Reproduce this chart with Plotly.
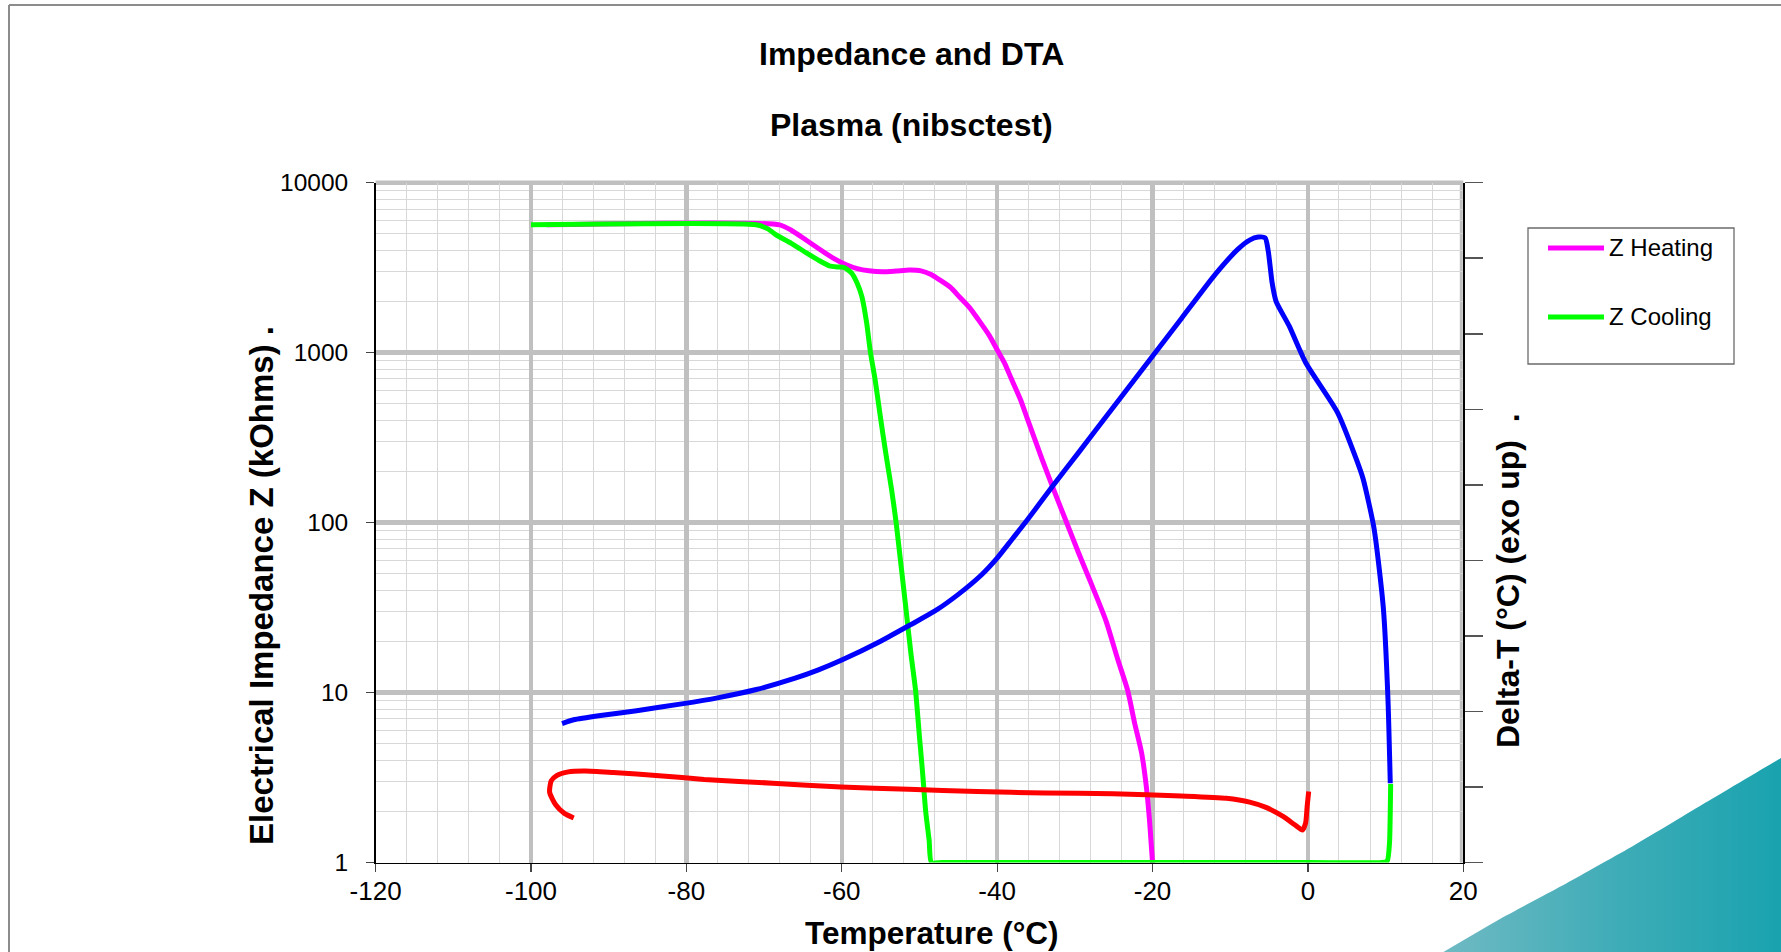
import plotly.graph_objects as go

# ---- data -------------------------------------------------------------
# Impedance on heating (kOhms)
heat_t = [-98, -68, -66.5, -64.6, -63, -61.1, -59.5, -58, -56.5, -54.7, -53, -51.3,
          -49.8, -48.5, -47.4, -46, -44.9, -43.5, -42.4, -41, -40, -39, -38.2, -37,
          -36, -34.2, -32.4, -31.2, -29.5, -28, -26, -24.5, -23.2, -22.3, -21.4,
          -20.8, -20.4, -20.15, -20.0]
heat_z = [5650, 5650, 5250, 4600, 4100, 3600, 3300, 3120, 3030, 2990, 3020, 3060,
          3030, 2880, 2680, 2420, 2140, 1830, 1560, 1260, 1040, 860, 706, 530,
          395, 235, 143, 104, 66, 45, 26.5, 15.8, 10.3, 6.6, 4.4,
          2.8, 1.8, 1.25, 1.0]

# Impedance on cooling (kOhms)
cool_t = [-100, -71, -69.5, -68.5, -66.5, -64.6, -63, -61.6, -60.5, -59.7, -58.7,
          -58, -57.4, -56.8, -56.3, -55.7, -55, -54.3, -53.6, -53.0, -52.7, -51.8,
          -51.1, -50.5, -50, -49.6, -49.2, -48.75, -48.45, -47, 0, 9.5, 10.2,
          10.5, 10.6, 10.65]
cool_z = [5650, 5650, 5350, 4950, 4400, 3875, 3500, 3240, 3190, 3170, 2930,
          2550, 2130, 1500, 1000, 690, 410, 250, 158, 100, 76, 33,
          17, 10.3, 5.5, 3.4, 2.0, 1.35, 1.0, 1.0, 1.0, 1.0, 1.02,
          1.3, 2.0, 2.9]

# Delta-T, cooling run (right axis units)
dta_cool_t = [-96.0, -94.5, -90.8, -86.4, -80.6, -76.0, -71.0, -66.0, -63.0, -60.0,
              -55.0, -51.1, -48.0, -45.0, -42.0, -40.0, -38.0, -36.3, -32.8, -29.5,
              -25.1, -20.7, -16.3, -11.9, -9.0, -7.5, -6.4, -5.5, -5.1, -4.6, -4.1,
              -2.4, -0.3, 3.8, 6.3, 7.1, 8.5, 9.7, 10.3, 10.6]
dta_cool_v = [1.84, 1.89, 1.95, 2.01, 2.10, 2.18, 2.29, 2.44, 2.55, 2.68,
              2.93, 3.15, 3.33, 3.55, 3.81, 4.03, 4.29, 4.51, 4.99, 5.43,
              6.02, 6.61, 7.20, 7.79, 8.12, 8.24, 8.28, 8.27, 8.09, 7.67, 7.43,
              7.10, 6.62, 5.96, 5.32, 5.08, 4.43, 3.38, 2.17, 1.05]

# Delta-T, heating run (right axis units)
dta_heat_t = [-94.5, -95.7, -96.8, -97.6, -97.4, -96.7, -95.2, -93.0, -89.4, -83.5,
              -77.7, -68.9, -60.1, -51.4, -42.6, -33.8, -25.1, -16.3, -10.5, -7.5,
              -5.4, -3.2, -1.7, -0.7, -0.3, -0.1, 0.1]
dta_heat_v = [0.59, 0.65, 0.76, 0.93, 1.08, 1.15, 1.20, 1.21, 1.19, 1.15,
              1.10, 1.05, 1.00, 0.97, 0.94, 0.92, 0.91, 0.88, 0.85, 0.80,
              0.73, 0.61, 0.50, 0.43, 0.52, 0.74, 0.94]

x_ticks = [-120, -100, -80, -60, -40, -20, 0, 20]
x_tick_labels = ["-120", "-100", "-80", "-60", "-40", "-20", "0", "20"]
z_ticks = [1, 10, 100, 1000, 10000]
z_tick_labels = ["1", "10", "100", "1000", "10000"]

# corner decoration outline (pixel coordinates)
deco_x = [1440, 1500, 1567, 1633, 1700, 1781, 1790, 1790, 1440]
deco_y = [954, 919, 883, 846, 806, 758, 753, 960, 960]

# ---- geometry -----------------------------------------------------------
W, H = 1781, 952
L, R, T, B = 375.6, 1463.3, 182.7, 862.5
FONT = "Liberation Sans, Arial, Helvetica, sans-serif"


def fx(p):
    return p / W


def fy(p):
    return 1 - p / H


fig = go.Figure()

line_kw = dict(shape="spline", smoothing=0.6, width=5)
fig.add_trace(go.Scatter(x=heat_t, y=heat_z, mode="lines", name="Z Heating",
                         line=dict(color="#ff00ff", **line_kw), cliponaxis=False))
fig.add_trace(go.Scatter(x=cool_t, y=cool_z, mode="lines", name="Z Cooling",
                         line=dict(color="#00ff00", **line_kw), cliponaxis=False))
fig.add_trace(go.Scatter(x=dta_cool_t, y=dta_cool_v, mode="lines", name="DT Cooling",
                         yaxis="y2", line=dict(color="#0000ff", **line_kw)))
fig.add_trace(go.Scatter(x=dta_heat_t, y=dta_heat_v, mode="lines", name="DT Heating",
                         yaxis="y2", line=dict(color="#ff0000", **line_kw)))

# teal corner ornament on a full-page hidden subplot
fig.add_trace(go.Scatter(x=deco_x, y=deco_y, mode="lines", fill="toself",
                         line=dict(width=0, color="rgba(0,0,0,0)", shape="spline",
                                   smoothing=0.4),
                         fillgradient=dict(type="horizontal",
                                           colorscale=[[0, "#70bac3"], [0.5, "#3eacb7"],
                                                       [1, "#15a2ae"]]),
                         xaxis="x3", yaxis="y3", hoverinfo="skip"))

fig.update_layout(
    width=W, height=H, autosize=False,
    margin=dict(l=0, r=0, t=0, b=0, pad=0, autoexpand=False),
    paper_bgcolor="white", plot_bgcolor="rgba(0,0,0,0)",
    showlegend=False,
    font=dict(family=FONT, color="black"),
    xaxis=dict(
        domain=[fx(L), fx(R)], range=[-120, 20], anchor="y",
        tickmode="array", tickvals=x_ticks, ticktext=x_tick_labels,
        ticks="outside", ticklen=8, tickcolor="#444", tickwidth=1.2,
        ticklabelstandoff=-3,
        tickfont=dict(size=26, family=FONT, color="black"),
        showline=True, linecolor="black", linewidth=1.5,
        showgrid=True, gridcolor="#c0c0c0", gridwidth=4.5,
        minor=dict(dtick=4, tick0=0, showgrid=True, gridcolor="#d8d8d8", gridwidth=1),
        zeroline=False, layer="below traces", automargin=False,
    ),
    yaxis=dict(
        type="log", domain=[fy(B), fy(T)], range=[0, 4], anchor="x",
        tickmode="array", tickvals=z_ticks, ticktext=z_tick_labels,
        ticks="outside", ticklen=8, tickcolor="#444", tickwidth=1.2,
        ticklabelstandoff=13,
        tickfont=dict(size=24.5, family=FONT, color="black"),
        showline=True, linecolor="black", linewidth=1.5,
        showgrid=True, gridcolor="#c0c0c0", gridwidth=4.5,
        minor=dict(dtick="D1", showgrid=True, gridcolor="#d8d8d8", gridwidth=1),
        zeroline=False, layer="below traces", automargin=False,
    ),
    yaxis2=dict(
        overlaying="y", side="right", anchor="x", range=[0, 9],
        tickmode="linear", tick0=0, dtick=1,
        ticks="outside", ticklen=18, tickcolor="#555", tickwidth=1.5,
        showticklabels=False, showgrid=False, zeroline=False,
        showline=True, linecolor="black", linewidth=1.5, automargin=False,
    ),
    xaxis3=dict(domain=[0, 1], range=[0, W], anchor="y3", visible=False,
                fixedrange=True, automargin=False),
    yaxis3=dict(domain=[0, 1], range=[H, 0], anchor="x3", visible=False,
                fixedrange=True, automargin=False),
)

shapes = [
    # heavy grey frame on the top and right edges of the plot area
    dict(type="line", xref="paper", yref="paper", x0=fx(L), x1=fx(R), y0=fy(T), y1=fy(T),
         line=dict(color="#c0c0c0", width=4.5), layer="below"),
    dict(type="line", xref="paper", yref="paper", x0=fx(R - 2), x1=fx(R - 2),
         y0=fy(B), y1=fy(T), line=dict(color="#c0c0c0", width=3), layer="below"),
    # page border (top and left edges)
    dict(type="line", xref="paper", yref="paper", x0=fx(9), x1=1, y0=fy(5), y1=fy(5),
         line=dict(color="#8c8c8c", width=2)),
    dict(type="line", xref="paper", yref="paper", x0=fx(9), x1=fx(9), y0=0, y1=fy(5),
         line=dict(color="#8c8c8c", width=2)),
    # legend box and keys
    dict(type="rect", xref="paper", yref="paper", x0=fx(1528), x1=fx(1734),
         y0=fy(364), y1=fy(228), line=dict(color="#6b6b6b", width=1.3),
         fillcolor="white"),
    dict(type="line", xref="paper", yref="paper", x0=fx(1548), x1=fx(1604),
         y0=fy(248), y1=fy(248), line=dict(color="#ff00ff", width=5)),
    dict(type="line", xref="paper", yref="paper", x0=fx(1548), x1=fx(1604),
         y0=fy(317), y1=fy(317), line=dict(color="#00ff00", width=5)),
]
fig.update_layout(shapes=shapes)


def label(text, x, y, size, bold=True, angle=0, xanchor="center"):
    return dict(text=f"<b>{text}</b>" if bold else text, x=fx(x), y=fy(y),
                xref="paper", yref="paper", showarrow=False, textangle=angle,
                xanchor=xanchor, yanchor="middle",
                font=dict(family=FONT, size=size, color="black"))


fig.update_layout(annotations=[
    label("Impedance and DTA", 911.7, 54, 32),
    label("Plasma (nibsctest)", 911.7, 125, 32),
    label("Temperature (°C)", 931.5, 933, 31.5),
    label("Electrical Impedance Z (kOhms)\u00a0.", 261, 586, 33, angle=-90),
    label("Delta-T (°C) (exo up)\u00a0\u00a0.", 1508, 581, 32, angle=-90),
    label("Z Heating", 1607, 248, 24, bold=False, xanchor="left"),
    label("Z Cooling", 1607, 317, 24, bold=False, xanchor="left"),
])

fig.write_html("out.html", config={"staticPlot": True, "displayModeBar": False})
